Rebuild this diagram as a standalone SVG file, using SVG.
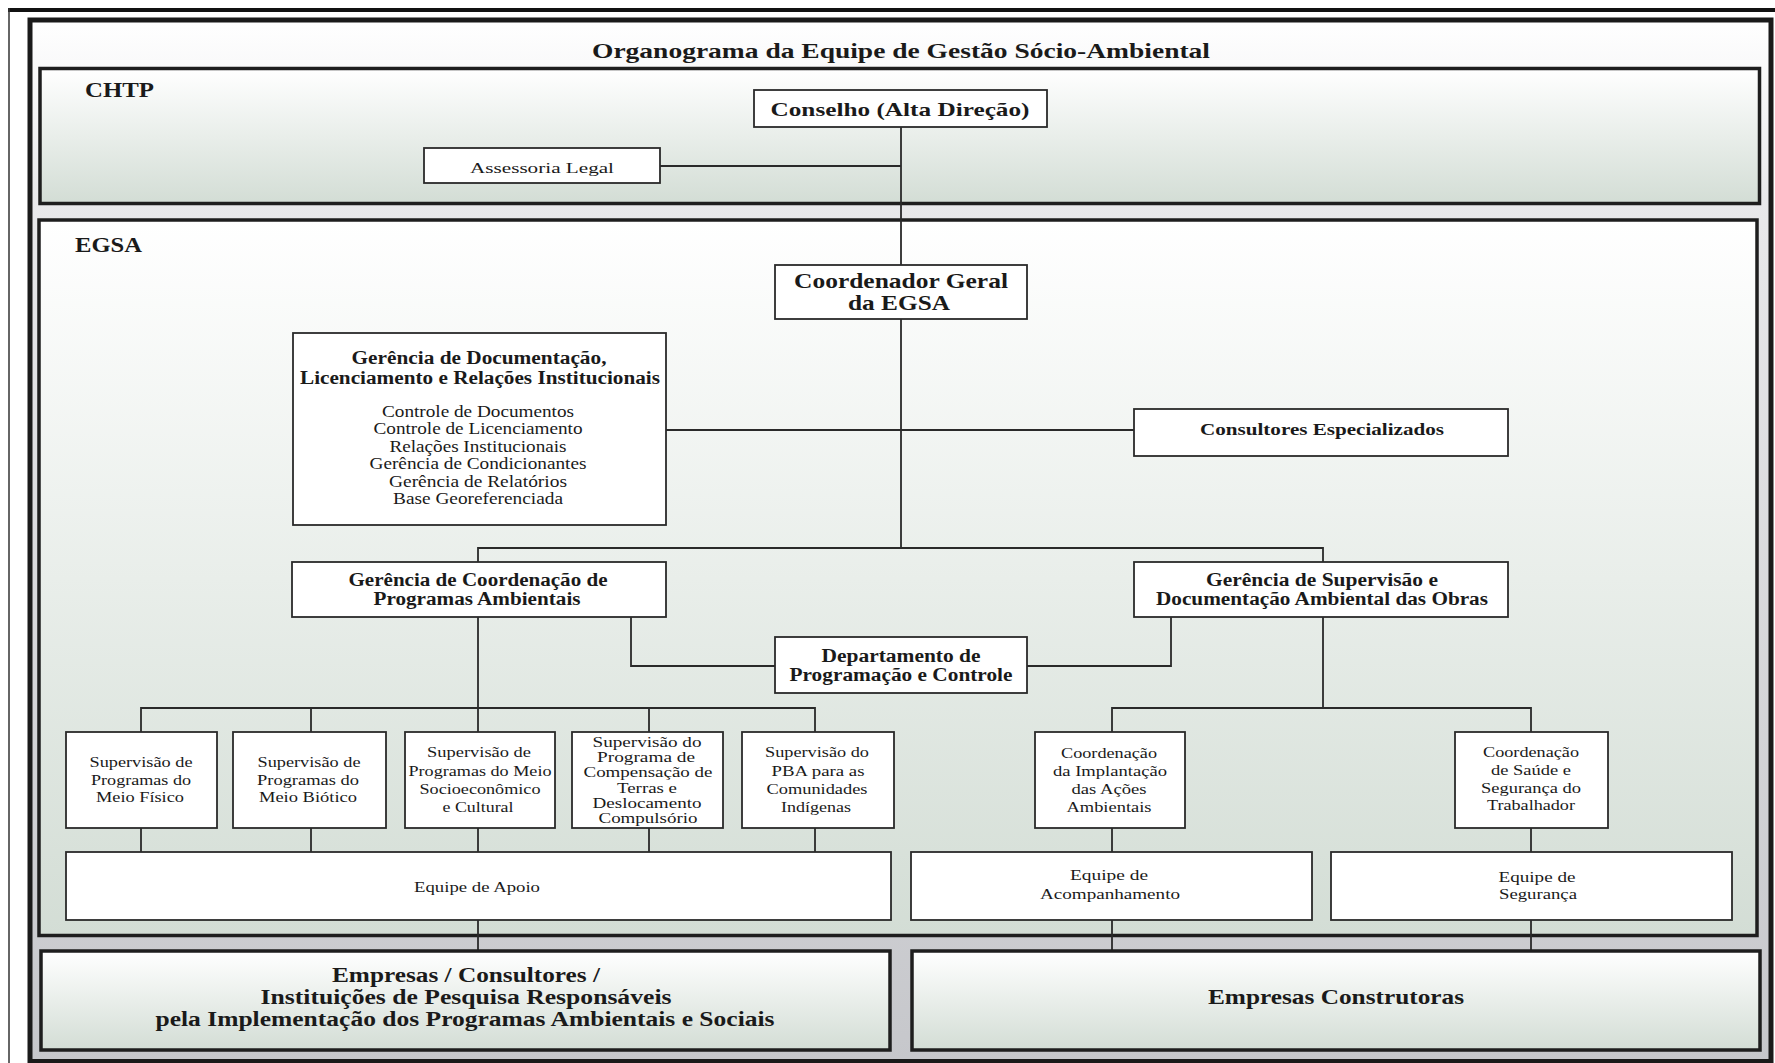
<svg xmlns="http://www.w3.org/2000/svg" width="1775" height="1063" viewBox="0 0 1775 1063">
<defs>
<linearGradient id="gFrame" x1="0" y1="0" x2="0" y2="1">
<stop offset="0" stop-color="#ffffff"/>
<stop offset="0.17" stop-color="#e9e9eb"/>
<stop offset="1" stop-color="#c6c7cb"/>
</linearGradient>
<linearGradient id="gPanel" x1="0" y1="0" x2="0" y2="1">
<stop offset="0" stop-color="#ffffff"/>
<stop offset="1" stop-color="#d3ddd5"/>
</linearGradient>
<style>
.panel{fill:url(#gPanel);stroke:#1e1e1e;stroke-width:3.5}
.box{fill:#ffffff;stroke:#2a2a2a;stroke-width:1.8}
.conn{fill:none;stroke:#2a2a2a;stroke-width:1.8}
text{font-family:"Liberation Serif","Times New Roman",serif;fill:#1a1a1a}
.b{font-weight:bold}
.c{text-anchor:middle}
.s{font-size:15px}
.m{font-size:16px}
.h{font-size:18.5px}
</style>
</defs>

<g id="frame">
<rect x="0" y="0" width="1775" height="1063" fill="#ffffff"/>
<line x1="8" y1="10" x2="1775" y2="10" stroke="#111" stroke-width="4"/>
<line x1="9" y1="8" x2="9" y2="1063" stroke="#333" stroke-width="1.5"/>
<rect x="30" y="20" width="1741" height="1041.5" fill="url(#gFrame)" stroke="#1a1a1a" stroke-width="5"/>
<text class="b c" x="901" y="58" font-size="21.5" textLength="618" lengthAdjust="spacingAndGlyphs">Organograma da Equipe de Gestão Sócio-Ambiental</text>
</g>

<g id="chtp">
<rect class="panel" x="40" y="68.5" width="1719.5" height="135"/>
<text class="b" x="85" y="97" font-size="22" textLength="69" lengthAdjust="spacingAndGlyphs">CHTP</text>
</g>

<g id="egsa">
<rect class="panel" x="39" y="220" width="1718" height="715.5"/>
<text class="b" x="75" y="252" font-size="22" textLength="67" lengthAdjust="spacingAndGlyphs">EGSA</text>
</g>

<g id="connectors">
<path class="conn" d="M901 127 V265 M901 319 V548 M660 166 H901 M666 430 H1134"/>
<path class="conn" d="M478 562 V548 H1323 V562"/>
<path class="conn" d="M478 617 V708 M141 732 V708 H815 V732 M311 708 V732 M478 708 V732 M649 708 V732"/>
<path class="conn" d="M631 617 V666 H775 M1171 617 V666 H1027"/>
<path class="conn" d="M1323 617 V708 M1112 732 V708 H1531 V732"/>
<path class="conn" d="M141 828 V852 M311 828 V852 M478 828 V852 M649 828 V852 M815 828 V852"/>
<path class="conn" d="M1112 828 V852 M1531 828 V852"/>
<path class="conn" d="M478 920 V951 M1112 920 V951 M1531 920 V951"/>
</g>

<g id="conselho">
<rect class="box" x="754" y="90" width="293" height="37"/>
<text class="b c" x="900" y="116" font-size="19.5" textLength="259" lengthAdjust="spacingAndGlyphs">Conselho (Alta Direção)</text>
</g>

<g id="assessoria">
<rect class="box" x="424" y="148" width="236" height="35"/>
<text class="c" x="542" y="173" font-size="15" textLength="144" lengthAdjust="spacingAndGlyphs">Assessoria Legal</text>
</g>

<g id="coordenador">
<rect class="box" x="775" y="265" width="252" height="54"/>
<text class="b c" x="901" y="288" font-size="22" textLength="214" lengthAdjust="spacingAndGlyphs">Coordenador Geral</text>
<text class="b c" x="899" y="310" font-size="22" textLength="102" lengthAdjust="spacingAndGlyphs">da EGSA</text>
</g>

<g id="gerencia-doc">
<rect class="box" x="293" y="333" width="373" height="192"/>
<text class="b c h" x="479" y="364" textLength="255" lengthAdjust="spacingAndGlyphs">Gerência de Documentação,</text>
<text class="b c h" x="480" y="384" textLength="360" lengthAdjust="spacingAndGlyphs">Licenciamento e Relações Institucionais</text>
<text class="c m" x="478" y="417" textLength="192" lengthAdjust="spacingAndGlyphs">Controle de Documentos</text>
<text class="c m" x="478" y="434" textLength="209" lengthAdjust="spacingAndGlyphs">Controle de Licenciamento</text>
<text class="c m" x="478" y="452" textLength="177" lengthAdjust="spacingAndGlyphs">Relações Institucionais</text>
<text class="c m" x="478" y="469" textLength="217" lengthAdjust="spacingAndGlyphs">Gerência de Condicionantes</text>
<text class="c m" x="478" y="487" textLength="178" lengthAdjust="spacingAndGlyphs">Gerência de Relatórios</text>
<text class="c m" x="478" y="504" textLength="170" lengthAdjust="spacingAndGlyphs">Base Georeferenciada</text>
</g>

<g id="consultores">
<rect class="box" x="1134" y="409" width="374" height="47"/>
<text class="b c" x="1322" y="435" font-size="17.5" textLength="244" lengthAdjust="spacingAndGlyphs">Consultores Especializados</text>
</g>

<g id="gerencia-coord">
<rect class="box" x="292" y="562" width="374" height="55"/>
<text class="b c h" x="478" y="586" textLength="259" lengthAdjust="spacingAndGlyphs">Gerência de Coordenação de</text>
<text class="b c h" x="477" y="605" textLength="207" lengthAdjust="spacingAndGlyphs">Programas Ambientais</text>
</g>

<g id="gerencia-sup">
<rect class="box" x="1134" y="562" width="374" height="55"/>
<text class="b c h" x="1322" y="586" textLength="232" lengthAdjust="spacingAndGlyphs">Gerência de Supervisão e</text>
<text class="b c h" x="1322" y="605" textLength="332" lengthAdjust="spacingAndGlyphs">Documentação Ambiental das Obras</text>
</g>

<g id="departamento">
<rect class="box" x="775" y="637" width="252" height="56"/>
<text class="b c h" x="901" y="662" textLength="159" lengthAdjust="spacingAndGlyphs">Departamento de</text>
<text class="b c h" x="901" y="681" textLength="223" lengthAdjust="spacingAndGlyphs">Programação e Controle</text>
</g>

<g id="sup-fisico">
<rect class="box" x="66" y="732" width="151" height="96"/>
<text class="c s" x="141" y="767" textLength="103" lengthAdjust="spacingAndGlyphs">Supervisão de</text>
<text class="c s" x="141" y="785" textLength="100" lengthAdjust="spacingAndGlyphs">Programas do</text>
<text class="c s" x="140" y="802" textLength="88" lengthAdjust="spacingAndGlyphs">Meio Físico</text>
</g>

<g id="sup-biotico">
<rect class="box" x="233" y="732" width="153" height="96"/>
<text class="c s" x="309" y="767" textLength="103" lengthAdjust="spacingAndGlyphs">Supervisão de</text>
<text class="c s" x="308" y="785" textLength="102" lengthAdjust="spacingAndGlyphs">Programas do</text>
<text class="c s" x="308" y="802" textLength="98" lengthAdjust="spacingAndGlyphs">Meio Biótico</text>
</g>

<g id="sup-socio">
<rect class="box" x="405" y="732" width="150" height="96"/>
<text class="c s" x="479" y="757" textLength="104" lengthAdjust="spacingAndGlyphs">Supervisão de</text>
<text class="c s" x="480" y="776" textLength="143" lengthAdjust="spacingAndGlyphs">Programas do Meio</text>
<text class="c s" x="480" y="794" textLength="121" lengthAdjust="spacingAndGlyphs">Socioeconômico</text>
<text class="c s" x="478" y="812" textLength="71" lengthAdjust="spacingAndGlyphs">e Cultural</text>
</g>

<g id="sup-terras">
<rect class="box" x="572" y="732" width="151" height="96"/>
<text class="c s" x="647" y="747" textLength="109" lengthAdjust="spacingAndGlyphs">Supervisão do</text>
<text class="c s" x="646" y="762" textLength="98" lengthAdjust="spacingAndGlyphs">Programa de</text>
<text class="c s" x="648" y="777" textLength="129" lengthAdjust="spacingAndGlyphs">Compensação de</text>
<text class="c s" x="647" y="793" textLength="60" lengthAdjust="spacingAndGlyphs">Terras e</text>
<text class="c s" x="647" y="808" textLength="109" lengthAdjust="spacingAndGlyphs">Deslocamento</text>
<text class="c s" x="648" y="823" textLength="99" lengthAdjust="spacingAndGlyphs">Compulsório</text>
</g>

<g id="sup-pba">
<rect class="box" x="742" y="732" width="152" height="96"/>
<text class="c s" x="817" y="757" textLength="104" lengthAdjust="spacingAndGlyphs">Supervisão do</text>
<text class="c s" x="818" y="776" textLength="93" lengthAdjust="spacingAndGlyphs">PBA para as</text>
<text class="c s" x="817" y="794" textLength="101" lengthAdjust="spacingAndGlyphs">Comunidades</text>
<text class="c s" x="816" y="812" textLength="70" lengthAdjust="spacingAndGlyphs">Indígenas</text>
</g>

<g id="coord-implantacao">
<rect class="box" x="1035" y="732" width="150" height="96"/>
<text class="c s" x="1109" y="758" textLength="96" lengthAdjust="spacingAndGlyphs">Coordenação</text>
<text class="c s" x="1110" y="776" textLength="114" lengthAdjust="spacingAndGlyphs">da Implantação</text>
<text class="c s" x="1109" y="794" textLength="75" lengthAdjust="spacingAndGlyphs">das Ações</text>
<text class="c s" x="1109" y="812" textLength="85" lengthAdjust="spacingAndGlyphs">Ambientais</text>
</g>

<g id="coord-saude">
<rect class="box" x="1455" y="732" width="153" height="96"/>
<text class="c s" x="1531" y="757" textLength="96" lengthAdjust="spacingAndGlyphs">Coordenação</text>
<text class="c s" x="1531" y="775" textLength="80" lengthAdjust="spacingAndGlyphs">de Saúde e</text>
<text class="c s" x="1531" y="793" textLength="100" lengthAdjust="spacingAndGlyphs">Segurança do</text>
<text class="c s" x="1531" y="810" textLength="88" lengthAdjust="spacingAndGlyphs">Trabalhador</text>
</g>

<g id="equipe-apoio">
<rect class="box" x="66" y="852" width="825" height="68"/>
<text class="c" x="477" y="892" font-size="15.5" textLength="126" lengthAdjust="spacingAndGlyphs">Equipe de Apoio</text>
</g>

<g id="equipe-acompanhamento">
<rect class="box" x="911" y="852" width="401" height="68"/>
<text class="c" x="1109" y="880" font-size="15.5" textLength="78" lengthAdjust="spacingAndGlyphs">Equipe de</text>
<text class="c" x="1110" y="899" font-size="15.5" textLength="140" lengthAdjust="spacingAndGlyphs">Acompanhamento</text>
</g>

<g id="equipe-seguranca">
<rect class="box" x="1331" y="852" width="401" height="68"/>
<text class="c" x="1537" y="882" font-size="15.5" textLength="77" lengthAdjust="spacingAndGlyphs">Equipe de</text>
<text class="c" x="1538" y="899" font-size="15.5" textLength="78" lengthAdjust="spacingAndGlyphs">Segurança</text>
</g>

<g id="empresas-consultores">
<rect class="panel" x="41" y="951" width="849" height="99" stroke-width="4"/>
<text class="b c" x="466" y="982" font-size="20.5" textLength="268" lengthAdjust="spacingAndGlyphs">Empresas / Consultores /</text>
<text class="b c" x="466" y="1004" font-size="20.5" textLength="411" lengthAdjust="spacingAndGlyphs">Instituições de Pesquisa Responsáveis</text>
<text class="b c" x="465" y="1026" font-size="20.5" textLength="619" lengthAdjust="spacingAndGlyphs">pela Implementação dos Programas Ambientais e Sociais</text>
</g>

<g id="empresas-construtoras">
<rect class="panel" x="912" y="951" width="848" height="99" stroke-width="4"/>
<text class="b c" x="1336" y="1004" font-size="21.5" textLength="256" lengthAdjust="spacingAndGlyphs">Empresas Construtoras</text>
</g>
</svg>
